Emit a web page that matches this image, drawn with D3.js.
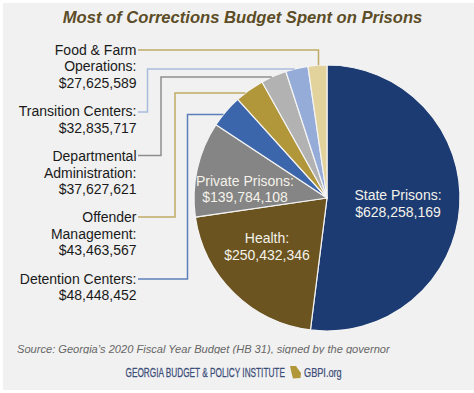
<!DOCTYPE html>
<html>
<head>
<meta charset="utf-8">
<script src="https://cdn.jsdelivr.net/npm/d3@7"></script>
<style>
  html, body { margin: 0; padding: 0; background: #fff; }
  svg { display: block; font-family: "Liberation Sans", Arial, sans-serif; }
</style>
</head>
<body>
<div id="chart"></div>
<script>
// data
const categories = ["State Prisons", "Health", "Private Prisons", "Detention Centers",
  "Offender Management", "Departmental Administration", "Transition Centers", "Food & Farm Operations"];
const budget = [628258169, 250432346, 139784108, 48448452, 43463567, 37627621, 32835717, 27625589];
const sliceColors = ["#1c3b72", "#6b5420", "#858585", "#3c66ab", "#b1963a", "#b2b2b2", "#95acd8", "#e2d39c"];
const lineColors = ["", "", "", "#5d7fb9", "#c0aa66", "#8e8e92", "#a9bcdd", "#c0aa66"];

const width = 474;
const height = 393;
const cx = 327;
const cy = 198;
const radius = 133;
const fmt = d3.format("$,");

const svg = d3.select("#chart").append("svg")
  .attr("width", width)
  .attr("height", height);

// panel, with the thin white edge of the original
svg.append("rect")
  .attr("x", 3).attr("y", 3)
  .attr("width", width - 3).attr("height", height - 6)
  .attr("fill", "#f1f1f1");

svg.append("text")
  .attr("x", 242.5).attr("y", 23)
  .attr("text-anchor", "middle")
  .attr("font-size", 16.6)
  .attr("font-weight", "bold")
  .attr("font-style", "italic")
  .attr("fill", "#5c4d27")
  .text("Most of Corrections Budget Spent on Prisons");

// pie, clockwise from 12 o'clock in the data order
const pie = d3.pie().sort(null).value(d => d);
const arc = d3.arc().innerRadius(0).outerRadius(radius);
const arcs = pie(budget);

svg.append("g")
  .attr("transform", `translate(${cx},${cy})`)
  .selectAll("path")
  .data(arcs)
  .join("path")
  .attr("d", arc)
  .attr("fill", (d, i) => sliceColors[i])
  .attr("stroke", "#f4f4f4")
  .attr("stroke-width", 1.2)
  .attr("stroke-linejoin", "round");

// labels inside the big slices
const insideLabels = [
  { i: 0, x: 398, y: 200 },
  { i: 1, x: 267, y: 243 },
  { i: 2, x: 245, y: 185.5 }
];
const inside = svg.append("g")
  .attr("text-anchor", "middle")
  .attr("font-size", 14)
  .attr("fill", "#f4f2ea");
insideLabels.forEach(l => {
  const t = inside.append("text").attr("x", l.x).attr("y", l.y);
  t.append("tspan").attr("x", l.x).text(categories[l.i] + ":");
  t.append("tspan").attr("x", l.x).attr("dy", 16.8).text(fmt(budget[l.i]));
});

// outside labels, right aligned, one row per line
const outsideLabels = [
  { i: 7, lines: ["Food & Farm", "Operations:"], y: 54.5 },
  { i: 6, lines: ["Transition Centers:"], y: 116 },
  { i: 5, lines: ["Departmental", "Administration:"], y: 161 },
  { i: 4, lines: ["Offender", "Management:"], y: 222 },
  { i: 3, lines: ["Detention Centers:"], y: 283.5 }
];
const labelRight = 136.5;
const outside = svg.append("g")
  .attr("text-anchor", "end")
  .attr("font-size", 14)
  .attr("fill", "#1a1a1a");
outsideLabels.forEach(l => {
  l.lines.concat(fmt(budget[l.i])).forEach((s, k) => {
    outside.append("text")
      .attr("x", labelRight)
      .attr("y", l.y + k * 16.6)
      .text(s);
  });
});

// leader lines: out of the label, up to a row, across to the pie edge
const leaders = [
  { i: 7, y0: 50, elbow: 318.5, y1: null },
  { i: 6, y0: 112, elbow: 147.5, y1: 69 },
  { i: 5, y0: 155.5, elbow: 161, y1: 77 },
  { i: 4, y0: 217, elbow: 175, y1: 93 },
  { i: 3, y0: 279, elbow: 187.5, y1: 114.5 }
];
const edgeX = y => cx - Math.sqrt(radius * radius - (y - cy) * (y - cy));
const leader = d3.line();
leaders.forEach(l => {
  let pts;
  if (l.y1 === null) {
    pts = [[138, l.y0], [l.elbow, l.y0], [l.elbow, cy - Math.sqrt(radius * radius - (l.elbow - cx) * (l.elbow - cx))]];
  } else {
    pts = [[138, l.y0], [l.elbow, l.y0], [l.elbow, l.y1], [edgeX(l.y1), l.y1]];
  }
  svg.append("path")
    .attr("d", leader(pts))
    .attr("fill", "none")
    .attr("stroke", lineColors[l.i])
    .attr("stroke-width", 1.5);
});

// source line, descenders are cut off in the original
svg.append("clipPath").attr("id", "src-clip")
  .append("rect").attr("x", 0).attr("y", 340).attr("width", width).attr("height", 14);
svg.append("text")
  .attr("x", 17).attr("y", 353)
  .attr("clip-path", "url(#src-clip)")
  .attr("font-size", 11.1)
  .attr("font-style", "italic")
  .attr("fill", "#666")
  .text("Source: Georgia\u2019s 2020 Fiscal Year Budget (HB 31), signed by the governor");

// footer logo line, squeezed since no condensed face is installed
const footer = svg.append("g")
  .attr("font-size", 12.4)
  .attr("fill", "#3b4d78")
  .attr("stroke", "#3b4d78")
  .attr("stroke-width", 0.25);
footer.append("text")
  .attr("transform", "translate(125.5,377) scale(0.665,1)")
  .text("GEORGIA BUDGET & POLICY INSTITUTE");
footer.append("text")
  .attr("transform", "translate(304,377) scale(0.74,1)")
  .text("GBPI.org");

// little state outline
svg.append("path")
  .attr("d", "M290 366 L296 366 L298 369 L301 373 L300.5 378 L293 378.5 L291.5 373 Z")
  .attr("fill", "#b1963a");
</script>
</body>
</html>
